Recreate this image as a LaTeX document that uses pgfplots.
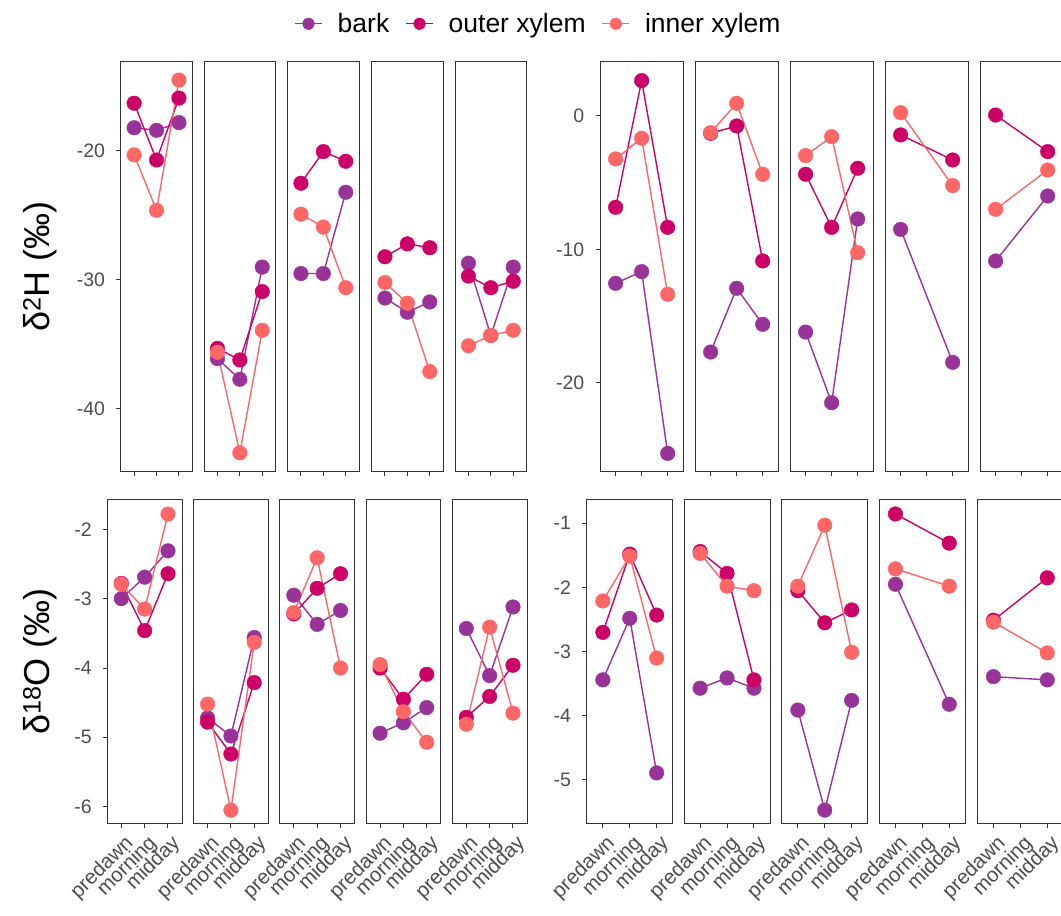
\documentclass[border=0pt]{standalone}
\usepackage{fontspec}
\setmainfont{Liberation Sans}
\usepackage{pgfplots}
\usepackage{pgfplotstable}
\pgfplotsset{compat=1.18}
\definecolor{barkc}{HTML}{993399}
\definecolor{outerc}{HTML}{CC0066}
\definecolor{innerc}{HTML}{FF6666}
\definecolor{gray20}{HTML}{333333}
\definecolor{gray30}{HTML}{4D4D4D}
\newcommand\ticksize{\fontsize{19.5}{22}\selectfont}
\newcommand\xticksize{\fontsize{20.5}{23}\selectfont}
\newcommand\ylabsize{\fontsize{36}{40}\selectfont}
\newcommand\legsize{\fontsize{26.5}{30}\selectfont}

% delta 2H, left group
\pgfplotstableread{
t bark outer inner
1 -18.2 -16.3 -20.3
2 -18.4 -20.7 -24.6
3 -17.8 -15.9 -14.5
}\tlA
\pgfplotstableread{
t bark outer inner
1 -36.1 -35.3 -35.6
2 -37.7 -36.2 -43.4
3 -29.0 -30.9 -33.9
}\tlB
\pgfplotstableread{
t bark outer inner
1 -29.5 -22.5 -24.9
2 -29.5 -20.05 -25.9
3 -23.2 -20.8 -30.6
}\tlC
\pgfplotstableread{
t bark outer inner
1 -31.4 -28.2 -30.2
2 -32.5 -27.2 -31.8
3 -31.7 -27.5 -37.1
}\tlD
\pgfplotstableread{
t bark outer inner
1 -28.7 -29.7 -35.1
2 -34.3 -30.6 -34.3
3 -29.0 -30.1 -33.9
}\tlE
% delta 2H, right group
\pgfplotstableread{
t bark outer inner
1 -12.55 -6.85 -3.22
2 -11.67 2.65 -1.67
3 -25.3 -8.35 -13.37
}\trA
\pgfplotstableread{
t bark outer inner
1 -17.7 -1.3 -1.25
2 -12.92 -0.75 0.95
3 -15.62 -10.87 -4.37
}\trB
\pgfplotstableread{
t bark outer inner
1 -16.2 -4.37 -2.97
2 -21.5 -8.35 -1.55
3 -7.72 -3.92 -10.25
}\trC
\pgfplotstableread{
t bark outer inner
1 -8.5 -1.42 0.25
3 -18.47 -3.3 -5.22
}\trD
\pgfplotstableread{
t bark outer inner
1 -10.87 0.07 -7.0
3 -6.0 -2.67 -4.05
}\trE
% delta 18O, left group
\pgfplotstableread{
t bark outer inner
1 -3.0 -2.78 -2.79
2 -2.69 -3.46 -3.15
3 -2.31 -2.64 -1.78
}\blA
\pgfplotstableread{
t bark outer inner
1 -4.72 -4.78 -4.52
2 -4.98 -5.24 -6.05
3 -3.56 -4.21 -3.63
}\blB
\pgfplotstableread{
t bark outer inner
1 -2.95 -3.22 -3.2
2 -3.37 -2.85 -2.41
3 -3.17 -2.64 -4.0
}\blC
\pgfplotstableread{
t bark outer inner
1 -4.94 -4.0 -3.95
2 -4.79 -4.45 -4.63
3 -4.57 -4.09 -5.07
}\blD
\pgfplotstableread{
t bark outer inner
1 -3.43 -4.71 -4.81
2 -4.11 -4.41 -3.41
3 -3.12 -3.96 -4.65
}\blE
% delta 18O, right group
\pgfplotstableread{
t bark outer inner
1 -3.44 -2.70 -2.21
2 -2.48 -1.48 -1.51
3 -4.89 -2.43 -3.10
}\brA
\pgfplotstableread{
t bark outer inner
1 -3.57 -1.44 -1.47
2 -3.41 -1.78 -1.98
3 -3.57 -3.44 -2.05
}\brB
\pgfplotstableread{
t bark outer inner
1 -3.91 -2.05 -1.98
2 -5.47 -2.55 -1.03
3 -3.76 -2.35 -3.01
}\brC
\pgfplotstableread{
t bark outer inner
1 -1.95 -0.855 -1.71
3 -3.82 -1.31 -1.98
}\brD
\pgfplotstableread{
t bark outer inner
1 -3.39 -2.51 -2.54
3 -3.44 -1.85 -3.02
}\brE

\pgfplotsset{
  panel/.style={scale only axis, anchor=south west,
    xmin=0.4, xmax=3.6, xtick={1,2,3}, ytick=\empty,
    tick align=outside, xtick pos=left, ytick pos=left,
    major tick length=4.5pt,
    tick style={draw=gray20, line width=1pt},
    axis line style={draw=gray20, line width=1pt},
    ticklabel style={font=\ticksize, text=gray30},
    yticklabel style={inner sep=0pt, xshift=-11pt},
    clip=false},
  top/.style={height=410pt, xticklabels={,,}},
  bot/.style={height=324.7pt, xticklabels={predawn,morning,midday},
    xticklabel style={font=\xticksize, rotate=45, anchor=north east, inner sep=2pt, yshift=-3pt}},
  tl/.style={top, width=71.7pt, ymin=-44.86, ymax=-13.08},
  tr/.style={top, width=83.3pt, ymin=-26.67, ymax=4.07},
  bl/.style={bot, width=74.7pt, ymin=-6.249, ymax=-1.567},
  br/.style={bot, width=86.1pt, ymin=-5.686, ymax=-0.626},
  lin/.style={no marks, line width=1.4pt},
  pts/.style={only marks, mark=*, mark size=7.3pt},
}

\newcommand{\panel}[4]{%
\begin{axis}[panel, at={(#1pt,#2pt)}, #3]
\addplot[lin, barkc] table[x=t,y=bark]{#4};
\addplot[lin, outerc] table[x=t,y=outer]{#4};
\addplot[lin, innerc] table[x=t,y=inner]{#4};
\addplot[pts, barkc] table[x=t,y=bark]{#4};
\addplot[pts, outerc] table[x=t,y=outer]{#4};
\addplot[pts, innerc] table[x=t,y=inner]{#4};
\end{axis}}

\begin{document}
\begin{tikzpicture}
% top left
\panel{120.7}{444.3}{tl, ytick={-40,-30,-20}, yticklabels={-40,-30,-20},
  ylabel={δ\textsuperscript{2}H (‰)},
  ylabel style={font=\ylabsize, at={(axis description cs:-1.126,0.5)}, anchor=center}}{\tlA}
\panel{204.0}{444.3}{tl}{\tlB}
\panel{287.5}{444.3}{tl}{\tlC}
\panel{371.5}{444.3}{tl}{\tlD}
\panel{455.0}{444.3}{tl}{\tlE}
% top right
\panel{600.0}{444.3}{tr, ytick={-20,-10,0}, yticklabels={-20,-10,0}}{\trA}
\panel{695.0}{444.3}{tr}{\trB}
\panel{790.0}{444.3}{tr}{\trC}
\panel{885.0}{444.3}{tr}{\trD}
\panel{980.0}{444.3}{tr}{\trE}
% bottom left
\panel{107.3}{92}{bl, ytick={-6,-5,-4,-3,-2}, yticklabels={-6,-5,-4,-3,-2},
  ylabel={δ\textsuperscript{18}O (‰)},
  ylabel style={font=\ylabsize, at={(axis description cs:-0.901,0.5)}, anchor=center}}{\blA}
\panel{193.55}{92}{bl}{\blB}
\panel{279.8}{92}{bl}{\blC}
\panel{366.05}{92}{bl}{\blD}
\panel{452.3}{92}{bl}{\blE}
% bottom right
\panel{586.7}{92}{br, ytick={-5,-4,-3,-2,-1}, yticklabels={-5,-4,-3,-2,-1}}{\brA}
\panel{684.0}{92}{br}{\brB}
\panel{781.7}{92}{br}{\brC}
\panel{879.3}{92}{br}{\brD}
\panel{977.3}{92}{br}{\brE}
% legend
\begin{axis}[at={(0pt,0pt)}, anchor=south west, scale only axis,
  width=1061pt, height=916pt, hide axis, xmin=0, xmax=1, ymin=0, ymax=1,
  legend columns=3,
  legend image code/.code={\draw[#1, line width=1.4pt] (0pt,0pt) -- (27pt,0pt);
     \fill[#1] (13.5pt,0pt) circle (5.8pt);},
  legend style={draw=none, fill=none, at={(axis description cs:0.507,0.974)},
    anchor=center, font=\legsize, inner sep=0pt, nodes={inner sep=1pt},
    /tikz/every odd column/.append style={column sep=14pt},
    /tikz/every even column/.append style={column sep=15pt}}]
\addlegendimage{barkc}
\addlegendentry{bark}
\addlegendimage{outerc}
\addlegendentry{outer xylem}
\addlegendimage{innerc}
\addlegendentry{inner xylem}
\end{axis}
\pgfresetboundingbox
\useasboundingbox (0pt,0pt) rectangle (1061pt,916pt);
\end{tikzpicture}
\end{document}
